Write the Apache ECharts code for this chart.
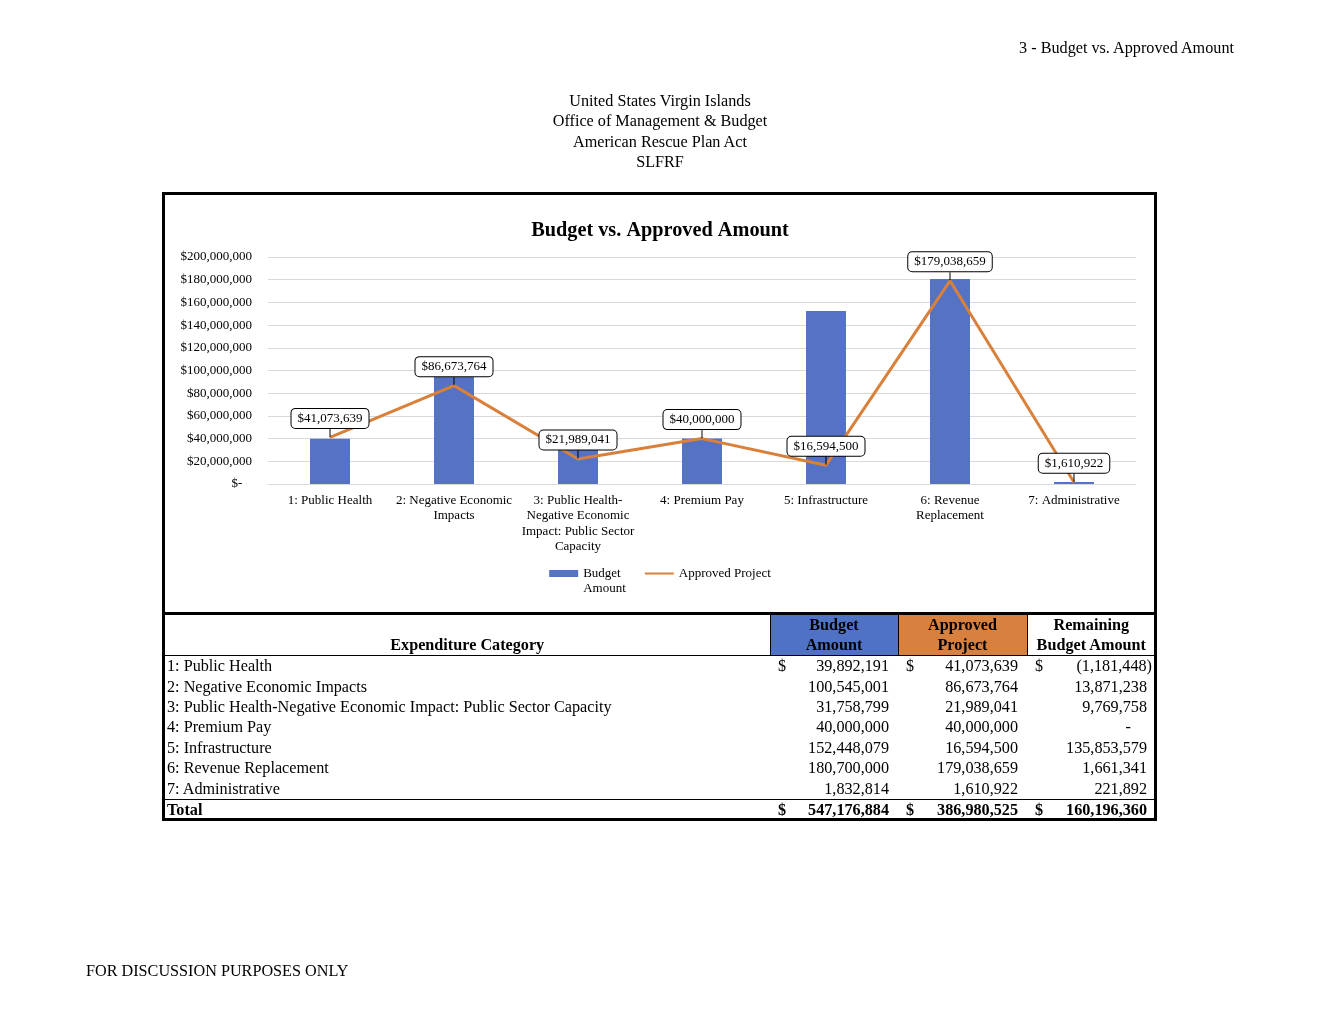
<!DOCTYPE html>
<html><head><meta charset="utf-8">
<script src="https://cdn.jsdelivr.net/npm/echarts@6/dist/echarts.min.js"></script>
<style>
body{margin:0;background:#fff;font-family:"Liberation Serif","Times New Roman",serif;color:#000;}
#wrap{position:relative;width:1320px;height:1020px;overflow:hidden;}
#chart{position:absolute;left:0;top:0;width:1320px;height:1020px;}
.txt{position:absolute;font-size:16.2px;line-height:20px;white-space:nowrap;}
#box{position:absolute;left:162px;top:192px;width:989px;height:623px;border:3px solid #000;pointer-events:none;}
#tbl{position:absolute;left:165px;top:612px;width:990px;border-top:3px solid #000;}
table{border-collapse:collapse;font-size:16.2px;table-layout:fixed;width:990px;}
td{padding:0;height:20.4px;line-height:20px;white-space:nowrap;position:relative;}
td.c{padding-left:2px;text-align:left;}
td.num{text-align:right;padding-right:9px;}
td.num span.d{position:absolute;left:8px;top:0;}
tr.hd td{height:40px;border-bottom:1px solid #000;font-weight:bold;text-align:center;vertical-align:bottom;line-height:20px;}
tr.tot td{border-top:1px solid #000;font-weight:bold;height:20px;}
</style>
</head><body>
<div id="wrap">
<div id="chart"></div>
<div class="txt" style="right:86px;top:38px;">3 - Budget vs. Approved Amount</div>
<div class="txt" style="left:0;width:1320px;top:91px;text-align:center;line-height:20.3px;">United States Virgin Islands<br>Office of Management &amp; Budget<br>American Rescue Plan Act<br>SLFRF</div>
<div id="box"></div>
<div id="tbl"></div>
<div class="txt" style="left:86px;top:961px;">FOR DISCUSSION PURPOSES ONLY</div>
</div>
<script>
const categories = ['1: Public Health','2: Negative Economic Impacts','3: Public Health-Negative Economic Impact: Public Sector Capacity','4: Premium Pay','5: Infrastructure','6: Revenue Replacement','7: Administrative'];
const axisLabels = ['1: Public Health','2: Negative Economic\nImpacts','3: Public Health-\nNegative Economic\nImpact: Public Sector\nCapacity','4: Premium Pay','5: Infrastructure','6: Revenue\nReplacement','7: Administrative'];
const budget = [39892191, 100545001, 31758799, 40000000, 152448079, 180700000, 1832814];
const approved = [41073639, 86673764, 21989041, 40000000, 16594500, 179038659, 1610922];
const remaining = [-1181448, 13871238, 9769758, 0, 135853579, 1661341, 221892];
const totals = [547176884, 386980525, 160196360];
const yMin = 0, yMax = 200000000, yStep = 20000000;

const fmt = v => v.toLocaleString('en-US');

// table
(function(){
  let h = '<table><colgroup><col style="width:605px"><col style="width:128px"><col style="width:129px"><col style="width:128px"></colgroup>';
  h += '<tr class="hd"><td>Expenditure Category</td>' +
       '<td style="background:#4F72C4;border-left:1px solid #000;">Budget<br>Amount</td>' +
       '<td style="background:#D8803E;border-left:1px solid #000;">Approved<br>Project</td>' +
       '<td style="border-left:1px solid #000;">Remaining<br>Budget Amount</td></tr>';
  const cell = (v, dollar, col4) => {
    let txt, pr = col4 ? 8 : 9;
    if (v < 0) { txt = '(' + fmt(-v) + ')'; pr = 3; }
    else if (v === 0) { txt = '-'; pr = 24; }
    else txt = fmt(v);
    return '<td class="num" style="padding-right:' + pr + 'px">' + (dollar ? '<span class="d">$</span>' : '') + txt + '</td>';
  };
  categories.forEach((c, i) => {
    h += '<tr><td class="c">' + c + '</td>' + cell(budget[i], i === 0) + cell(approved[i], i === 0) + cell(remaining[i], i === 0, true) + '</tr>';
  });
  h += '<tr class="tot"><td class="c">Total</td>' + cell(totals[0], true) + cell(totals[1], true) + cell(totals[2], true, true) + '</tr>';
  h += '</table>';
  document.getElementById('tbl').innerHTML = h;
})();

const chart = echarts.init(document.getElementById('chart'), null, {renderer:'canvas'});
const FF = 'Liberation Serif';
chart.setOption({
  animation:false,
  textStyle:{fontFamily:FF},
  title:{text:'Budget vs. Approved Amount', left:'center', top:216,
    textStyle:{fontSize:20.3, fontWeight:'bold', color:'#000', fontFamily:FF}},
  grid:{left:268, right:184, top:257, bottom:536},
  legend:{top:546, left:'center', itemWidth:29, itemHeight:7, itemGap:18,
    textStyle:{fontSize:13, color:'#000', lineHeight:15, fontFamily:FF},
    data:[{name:'Budget Amount', icon:'rect'},
          {name:'Approved Project', itemStyle:{opacity:0}}],
    formatter: n => n === 'Budget Amount' ? ' \nBudget\nAmount' : n},
  xAxis:{type:'category', data:categories,
    axisLine:{lineStyle:{color:'#d9d9d9'}}, axisTick:{show:false},
    axisLabel:{interval:0, fontSize:13, color:'#000', lineHeight:15.3, margin:9, fontFamily:FF,
      formatter:(v, i) => axisLabels[i]}},
  yAxis:{type:'value', min:yMin, max:yMax, interval:yStep,
    axisLine:{show:false}, axisTick:{show:false},
    splitLine:{lineStyle:{color:'#d9d9d9'}},
    axisLabel:{fontSize:13, color:'#000', margin:16, fontFamily:FF,
      formatter: v => v === 0 ? '$-   ' : '$' + fmt(v)}},
  series:[
    {name:'Budget Amount', type:'bar', data:budget, barWidth:40, itemStyle:{color:'#5572C4'}},
    {name:'Approved Project', type:'line', data:approved, symbol:'circle', symbolSize:1,
      itemStyle:{color:'#D9803B'}, lineStyle:{width:3, color:'#D9803B'}, z:3,
      label:{show:true, position:'top', distance:0, formatter:p => '$' + fmt(p.value),
        fontSize:13, color:'#000', backgroundColor:'#fff', borderColor:'#000', borderWidth:1,
        borderRadius:4, padding:[3,6,3,6], fontFamily:FF},
      labelLayout:{dy:-9},
      labelLine:{show:true, lineStyle:{color:'#000', width:1}}}
  ]
});
</script>
</body></html>
